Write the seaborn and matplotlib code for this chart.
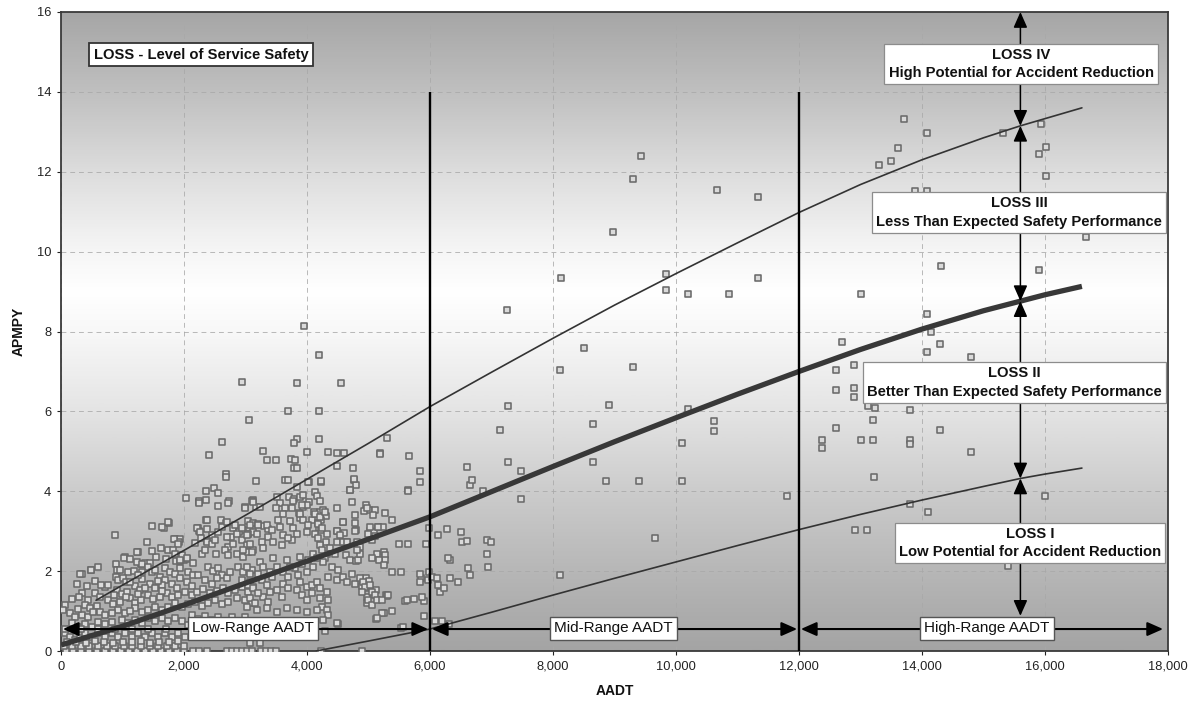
import numpy as np
import pandas as pd
import matplotlib
matplotlib.use("Agg")
import matplotlib.pyplot as plt
import seaborn as sns
from matplotlib.patches import FancyArrowPatch
from matplotlib.colors import LinearSegmentedColormap

# ---------------- data ----------------
low_range_points = [
    (3951, 8.13), (4195, 7.42), (2948, 6.74), (3837, 6.72), (4553, 6.72), (3696, 6.02), (4195, 6.01),
    (3057, 5.78), (2618, 5.23), (3837, 5.31), (3789, 5.22), (4195, 5.32), (5301, 5.33), (2407, 4.90),
    (3279, 5.02), (3995, 4.99), (4347, 4.99), (4493, 4.96), (4602, 4.96), (5187, 4.95), (5653, 4.89),
    (3355, 4.78), (3496, 4.78), (3740, 4.80), (3800, 4.78), (3789, 4.59), (3842, 4.59), (4493, 4.62),
    (4748, 4.59), (2678, 4.42), (2683, 4.35), (3642, 4.28), (3696, 4.28), (3176, 4.25), (4027, 4.22),
    (4228, 4.22), (3842, 4.10), (4764, 4.28), (4791, 4.16), (4699, 4.02), (5843, 4.50), (5843, 4.22),
    (5648, 4.02), (2027, 3.83), (2352, 4.00), (2493, 4.08), (2548, 3.95), (2249, 3.72), (2358, 3.78),
    (2732, 3.75), (3122, 3.77),
    (877, 2.90), (1474, 3.13), (1667, 3.08), (1754, 3.21), (1393, 2.72), (1033, 2.35), (1244, 2.48),
    (1306, 2.17), (1368, 2.21), (1449, 2.21), (890, 2.17), (915, 2.03), (958, 2.04), (485, 2.04),
    (336, 1.92), (268, 1.67), (1742, 2.52), (1854, 2.80), (1934, 2.80), (1922, 2.72), (1866, 2.25),
    (1928, 2.25), (1997, 2.28), (1934, 2.08), (2046, 2.31), (2183, 2.71), (2245, 3.76), (2998, 3.61),
    (3104, 3.76), (3166, 3.61), (3047, 3.26), (3116, 3.21), (3203, 3.17), (3296, 3.13), (3358, 3.05),
    (2967, 3.03), (3035, 2.93), (3129, 2.98), (2220, 3.08), (2252, 3.01), (2376, 3.05), (2364, 3.28),
    (2376, 2.75), (2463, 2.90), (2594, 3.27), (2675, 3.20), (2793, 3.08), (2892, 2.98), (2768, 2.85),
    (2868, 2.92), (4018, 4.23), (4223, 4.25), (4703, 4.03), (4759, 4.30), (5188, 4.94), (5642, 4.00),
    (5374, 3.28), (4964, 3.65), (5014, 3.53), (5113, 3.53), (4920, 3.50), (5262, 3.46),
    (3520, 3.86), (3558, 3.71), (3707, 3.86), (3794, 3.80), (3495, 3.57), (3645, 3.57), (3751, 3.57),
    (3894, 3.86), (3943, 3.90), (4025, 3.73), (4137, 3.98), (4168, 3.88), (4211, 3.75), (3937, 3.61),
    (3993, 3.65), (4112, 3.48), (4218, 3.48), (4261, 3.52), (4305, 3.39), (3863, 3.45), (3894, 3.33),
    (4081, 3.28), (4180, 3.21), (4223, 3.29), (4192, 3.08), (4223, 3.03), (4329, 2.93), (4485, 3.00),
    (4603, 2.95), (4597, 2.73), (4317, 2.72), (4491, 2.73), (4653, 2.72), (4796, 3.02), (4777, 3.21),
    (4590, 3.23), (5020, 3.00), (5095, 2.99), (5151, 3.10), (5231, 3.11), (5101, 2.87), (5256, 2.48),
    (5262, 2.40), (5262, 2.29), (5138, 2.43), (5063, 2.32), (5169, 2.28), (5256, 2.15), (5492, 2.68),
    (5642, 2.68), (5380, 1.97), (5523, 1.97), (5934, 2.67), (5990, 3.07), (5847, 1.84), (5841, 1.73),
    (4634, 2.40), (4697, 2.27), (4796, 2.25), (4827, 2.27), (4858, 2.42), (4964, 1.82), (5001, 1.75),
    (4889, 1.64), (4964, 1.57), (5126, 1.52), (5598, 1.24), (5747, 1.30), (5896, 1.25), (5872, 1.36),
    (5281, 1.39), (5306, 1.38), (5386, 1.00), (5256, 0.96), (5126, 0.79), (4983, 1.35), (4970, 1.19),
    (5523, 0.58), (5896, 0.88), (4497, 0.68), (4286, 0.51), (4223, 0.00), (4895, 0.00), (5977, 1.98),
    (2244, 3.71), (2547, 3.63), (2721, 3.71), (2992, 3.59), (1648, 3.11), (1745, 3.22), (2369, 3.29),
    (2558, 2.98), (2612, 3.11), (2206, 3.07), (2260, 2.98), (2694, 3.23), (2829, 3.15), (2938, 3.07),
    (3073, 3.15), (3046, 2.94), (1843, 2.80), (1908, 2.69), (1241, 2.47), (1030, 2.34), (2276, 2.83),
    (2369, 2.73), (2450, 2.69), (2504, 2.78), (2721, 2.61), (2802, 2.69), (2694, 2.86), (2938, 2.78),
    (3019, 2.65), (3127, 2.53), (1827, 2.53), (1854, 2.44), (1962, 2.40), (2043, 2.32), (1935, 2.28),
    (2287, 2.44), (2341, 2.53), (2515, 2.44), (2667, 2.53), (2721, 2.40), (2856, 2.44), (2965, 2.36),
    (3046, 2.48), (1230, 2.23), (1322, 2.19), (1420, 2.11), (1095, 1.98), (1187, 2.01), (1311, 1.98),
    (1474, 1.98), (1528, 2.03), (482, 2.03), (309, 1.93), (347, 1.44), (444, 1.28), (65, 1.15),
    (715, 1.61), (759, 1.65), (889, 1.86), (932, 1.78), (1014, 1.82), (1051, 1.73), (1691, 2.07),
    (1772, 1.98), (1610, 1.86), (1691, 1.78), (1854, 1.94), (1935, 1.84), (2070, 1.98), (2152, 1.90),
    (2233, 1.90), (2396, 2.11), (2477, 2.01), (2558, 2.07), (2612, 1.90), (2694, 1.82), (2748, 1.98),
    (2883, 2.11), (2965, 1.98), (3100, 2.03), (2938, 1.78), (3073, 1.73), (2341, 1.78), (2450, 1.69),
    (2531, 1.82), (2043, 1.73), (2125, 1.63), (1799, 1.69), (1881, 1.58), (1447, 1.69), (1528, 1.58),
    (1637, 1.65), (1203, 1.63), (1284, 1.53), (1366, 1.58), (905, 1.53), (986, 1.43), (1068, 1.48),
    (553, 1.44), (634, 1.36), (390, 1.15), (472, 1.07), (580, 1.13), (770, 1.28), (851, 1.18),
    (959, 1.23), (1122, 1.32), (1203, 1.21), (1301, 1.28), (1420, 1.40), (1501, 1.29), (1610, 1.36),
    (1718, 1.44), (1799, 1.34), (1908, 1.40), (2016, 1.48), (2125, 1.40), (2206, 1.48), (2314, 1.54),
    (2423, 1.44), (2531, 1.51), (2640, 1.57), (2721, 1.46), (2829, 1.53), (2938, 1.59), (3046, 1.48),
    (3127, 1.59), (2856, 1.32), (2992, 1.28), (3100, 1.19), (2504, 1.28), (2612, 1.18), (2721, 1.23),
    (2179, 1.23), (2287, 1.13), (2396, 1.19), (1854, 1.19), (1962, 1.11), (2070, 1.18), (1528, 1.11),
    (1637, 1.03), (1745, 1.09), (1203, 1.07), (1311, 0.98), (1420, 1.03), (932, 1.03), (1041, 0.94),
    (1122, 1.01), (634, 0.98), (715, 0.90), (824, 0.96), (146, 0.94), (228, 0.86), (336, 0.90),
    (444, 0.84), (173, 0.69), (282, 0.61), (390, 0.68), (499, 0.61), (607, 0.73), (715, 0.68),
    (824, 0.73), (986, 0.78), (1095, 0.71), (1203, 0.78), (1311, 0.71), (1420, 0.82), (1528, 0.76),
    (1637, 0.82), (1745, 0.76), (1854, 0.82), (1962, 0.76), (65, 0.44), (146, 0.36), (228, 0.28),
    (309, 0.32), (390, 0.44), (499, 0.36), (607, 0.44), (715, 0.36), (824, 0.44), (932, 0.36),
    (1041, 0.44), (1149, 0.36), (1257, 0.44), (1366, 0.36), (1474, 0.44), (1582, 0.36), (1691, 0.44),
    (1799, 0.36), (1908, 0.44), (2016, 0.36), (2125, 0.90), (2233, 0.79), (2341, 0.88), (2450, 0.78),
    (2558, 0.86), (2667, 0.76), (2775, 0.86), (2883, 0.76), (2992, 0.86), (3100, 0.76), (2287, 0.48),
    (2450, 0.40), (2612, 0.51), (2775, 0.40), (2938, 0.48), (3100, 0.40),
    (3128, 3.73), (3236, 3.61), (3778, 3.75), (3914, 3.65), (3887, 3.44), (3941, 3.28), (4022, 3.15),
    (3995, 2.98), (4130, 3.44), (4212, 3.36), (4293, 3.48), (4185, 3.19), (4239, 3.07), (4130, 2.94),
    (4185, 2.82), (3778, 3.07), (3832, 2.94), (3751, 2.78), (3616, 2.90), (3697, 2.82), (3589, 2.65),
    (3345, 3.15), (3426, 3.03), (3372, 2.86), (3453, 2.73), (3209, 3.15), (3182, 2.94), (3263, 2.73),
    (3290, 2.57), (3019, 2.90), (3073, 2.69), (2965, 2.53), (3101, 2.48), (4483, 3.57), (4727, 3.73),
    (4781, 3.40), (4971, 3.57), (5079, 3.40), (4592, 3.23), (4781, 3.01), (5025, 3.11), (5160, 3.11),
    (4483, 3.00), (4592, 2.73), (4646, 2.73), (4537, 2.90), (4998, 2.94), (5052, 2.78), (4808, 2.73),
    (4862, 2.61), (4808, 2.53), (4374, 2.57), (4456, 2.44), (4320, 2.44), (4293, 2.32), (4212, 2.65),
    (4239, 2.53), (4266, 2.23), (4103, 2.44), (4158, 2.32), (4022, 2.28), (4103, 2.11), (3995, 1.98),
    (3887, 2.36), (3914, 2.19), (3805, 2.07), (3860, 1.90), (3670, 2.28), (3724, 2.11), (3616, 1.98),
    (3697, 1.86), (3453, 2.32), (3507, 2.11), (3399, 1.98), (3426, 1.86), (3236, 2.23), (3290, 2.11),
    (3209, 1.94), (3263, 1.78), (3019, 2.11), (3073, 1.94), (3046, 1.65), (3616, 3.44), (3724, 3.26),
    (3534, 3.28), (3561, 3.11), (4402, 2.11), (4510, 2.03), (4347, 1.86), (4483, 1.78), (4592, 1.86),
    (4646, 1.73), (4727, 1.94), (4781, 1.69), (4862, 1.82), (4917, 1.73), (4944, 1.61), (4889, 1.48),
    (5025, 1.65), (5052, 1.48), (5106, 1.40), (4998, 1.28), (5052, 1.15), (5133, 1.28), (5214, 1.28),
    (5323, 1.40), (5214, 0.94), (5621, 1.28), (5838, 1.94), (5973, 1.78), (5133, 0.82), (5567, 0.61),
    (4483, 0.69), (3887, 1.73), (3995, 1.61), (4076, 1.65), (4158, 1.73), (3832, 1.53), (3914, 1.40),
    (3995, 1.28), (4076, 1.44), (4212, 1.57), (4320, 1.48), (4212, 1.32), (4347, 1.28), (4239, 1.11),
    (3616, 1.69), (3697, 1.57), (3507, 1.53), (3589, 1.36), (3345, 1.65), (3399, 1.48), (3290, 1.36),
    (3372, 1.23), (3128, 1.57), (3209, 1.44), (3073, 1.32), (3155, 1.19), (3019, 1.11), (3182, 1.03),
    (3345, 1.07), (3507, 0.98), (3670, 1.07), (3832, 1.03), (3995, 0.98), (4158, 1.03), (4320, 1.03),
    (4347, 0.90), (4266, 0.78), (3073, 0.19), (3236, 0.21),
    (80, 0.0), (200, 0.0), (330, 0.0), (460, 0.0), (590, 0.0), (720, 0.0), (850, 0.0), (980, 0.0),
    (1110, 0.0), (1240, 0.0), (1370, 0.0), (1500, 0.0), (1630, 0.0), (1760, 0.0), (1890, 0.0),
    (2000, 0.0), (2150, 0.0), (2250, 0.0), (2380, 0.0), (2700, 0.0), (2780, 0.0), (2860, 0.0),
    (2940, 0.0), (3020, 0.0), (3100, 0.0), (3250, 0.0), (3330, 0.0), (3410, 0.0), (3500, 0.0),
    (50, 0.12), (180, 0.12), (320, 0.12), (460, 0.12), (600, 0.12), (740, 0.12), (880, 0.12),
    (1020, 0.12), (1160, 0.12), (1300, 0.12), (1440, 0.12), (1580, 0.12), (1720, 0.12), (1860, 0.12),
    (2000, 0.12),
    (100, 0.22), (250, 0.23), (400, 0.21), (550, 0.24), (700, 0.22), (850, 0.21), (1000, 0.23),
    (1150, 0.22), (1300, 0.24), (1450, 0.21), (1600, 0.23), (1750, 0.22), (1900, 0.24),
    (60, 0.55), (330, 0.54), (600, 0.56), (870, 0.55), (1150, 0.54), (1420, 0.56), (1700, 0.55),
    (40, 1.02), (280, 1.05), (520, 0.98), (180, 1.30), (300, 1.36), (860, 1.40), (1050, 1.35),
    (1260, 1.42), (1650, 1.50), (420, 1.62), (560, 1.75), (650, 1.66), (1130, 1.72), (1320, 1.80),
    (1580, 1.75), (1250, 1.90), (600, 2.10), (1130, 2.30), (1550, 2.35), (1620, 2.58), (1480, 2.50),
    (1700, 2.30), (2150, 2.20), (2060, 0.64), (2180, 0.60),
]

mid_range_points = [
    (6040, 1.86), (6126, 2.90), (6270, 3.05), (6120, 1.84), (6126, 1.65), (6170, 1.47), (6232, 1.57),
    (6325, 2.28), (6295, 2.32), (6319, 1.84), (6450, 1.73), (6500, 2.98), (6513, 2.73), (6600, 2.76),
    (6594, 4.61), (6643, 4.15), (6681, 4.29), (6619, 2.07), (6656, 1.90), (6868, 4.00), (6930, 2.78),
    (6998, 2.73), (6930, 2.42), (6943, 2.11), (6201, 0.75), (6307, 0.68), (6089, 0.75), (7144, 5.53),
    (7262, 4.73), (7275, 6.14), (7480, 4.50), (7480, 3.80), (8121, 7.03), (8108, 1.90), (8500, 7.58),
    (8643, 5.68), (8655, 4.73), (7252, 8.53), (8135, 9.34), (9439, 12.39), (9304, 11.83),
    (10660, 11.54), (11337, 11.38), (8979, 10.50), (9833, 9.44), (9833, 9.03), (10200, 8.94),
    (10863, 8.94), (11337, 9.34), (9304, 7.11), (8917, 6.15), (10195, 6.05), (10618, 5.77),
    (10618, 5.52), (10098, 5.22), (8869, 4.26), (9397, 4.26), (10098, 4.26), (11808, 3.89),
    (9654, 2.84),
]

high_range_points = [
    (13706, 13.33), (14087, 12.97), (13602, 12.59), (13491, 12.28), (13307, 12.17), (15314, 12.97),
    (15927, 13.19), (16020, 12.63), (15903, 12.45), (16020, 11.90), (13889, 11.53), (14081, 11.53),
    (16663, 10.36), (14307, 9.63), (15909, 9.54), (13006, 8.94), (14087, 8.43), (14153, 8.00),
    (14294, 7.68), (12699, 7.73), (14087, 7.48), (14799, 7.36), (12595, 7.04), (12894, 7.15),
    (12595, 6.53), (12894, 6.59), (12894, 6.37), (13122, 6.13), (13233, 6.08), (13202, 5.78),
    (13797, 6.04), (12595, 5.58), (12374, 5.29), (12374, 5.08), (13000, 5.29), (13197, 5.29),
    (13797, 5.29), (13797, 5.18), (14293, 5.53), (14797, 4.98), (13219, 4.36), (13797, 3.69),
    (14098, 3.47), (12907, 3.02), (13098, 3.02), (16006, 3.89), (15393, 2.14),
]

# fitted curves
expected_aadt = [0, 1000, 2000, 3000, 4000, 5000, 6000, 7000, 8000, 9000, 10000, 11000, 12000,
                 13000, 14000, 15000, 15600, 16000, 16600]
expected_apmpy = [0.15, 0.62, 1.15, 1.70, 2.25, 2.80, 3.36, 3.99, 4.62, 5.24, 5.84, 6.43, 7.00,
                  7.55, 8.06, 8.52, 8.76, 8.92, 9.13]

upper_aadt = [570, 1000, 2000, 3000, 4000, 5000, 6000, 7000, 8000, 9000, 10000, 11000, 12000,
              13000, 14000, 15000, 15600, 16000, 16600]
upper_apmpy = [1.27, 1.65, 2.52, 3.40, 4.30, 5.20, 6.12, 6.98, 7.83, 8.66, 9.45, 10.22, 10.98,
               11.68, 12.30, 12.85, 13.15, 13.33, 13.60]

lower_aadt = [4150, 5000, 6000, 7000, 8000, 9000, 10000, 11000, 12000, 13000, 14000, 15000,
              15600, 16000, 16600]
lower_apmpy = [0.0, 0.25, 0.55, 0.97, 1.40, 1.82, 2.23, 2.64, 3.04, 3.42, 3.78, 4.12, 4.32,
               4.43, 4.58]

range_bounds = [6000, 12000]
range_line_top = 14
range_arrow_edges = [0, 6000, 12000, 17950]
range_labels = ["Low-Range AADT", "Mid-Range AADT", "High-Range AADT"]

loss_aadt = 15600
loss_levels = [0.88, 4.32, 8.76, 13.15, 16.0]
loss_labels = [
    "LOSS I\nLow Potential for Accident Reduction",
    "LOSS II\nBetter Than Expected Safety Performance",
    "LOSS III\nLess Than Expected Safety Performance",
    "LOSS IV\nHigh Potential for Accident Reduction",
]

x_ticks = [0, 2000, 4000, 6000, 8000, 10000, 12000, 14000, 16000, 18000]
x_tick_labels = ["0", "2,000", "4,000", "6,000", "8,000", "10,000", "12,000", "14,000", "16,000", "18,000"]
y_ticks = [0, 2, 4, 6, 8, 10, 12, 14, 16]

title_text = "LOSS - Level of Service Safety"

# ---------------- plot ----------------
sns.set_theme(style="white")
plt.rcParams["font.family"] = ["Liberation Sans", "DejaVu Sans"]

fig = plt.figure(figsize=(11.92, 7.04), dpi=100)
ax = fig.add_axes([61 / 1192, 1 - 651 / 704, (1168 - 61) / 1192, (651 - 12) / 704])

# background gradient (dark top & bottom, white in middle)
stops = [(0.0, "#a4a4a4"), (2 / 16, "#b7b7b7"), (4 / 16, "#cccccc"), (6 / 16, "#e4e4e4"),
         (8 / 16, "#f8f8f8"), (9 / 16, "#ffffff"), (10 / 16, "#f6f6f6"), (12 / 16, "#dddddd"),
         (14 / 16, "#c0c0c0"), (1.0, "#a6a6a6")]
cmap = LinearSegmentedColormap.from_list("bg", stops)
ax.imshow(np.linspace(0, 1, 512).reshape(-1, 1), cmap=cmap, origin="lower", aspect="auto",
          extent=(0, 18000, 0, 16), zorder=-2, interpolation="bilinear")

pts = pd.DataFrame(low_range_points + mid_range_points + high_range_points, columns=["AADT", "APMPY"])
sns.scatterplot(data=pts, x="AADT", y="APMPY", marker="s", s=15, color="#dadada",
                edgecolor="#6a6a6a", linewidth=1.15, ax=ax, zorder=3, legend=False)

curve_df = pd.DataFrame({"AADT": expected_aadt, "APMPY": expected_apmpy})
upper_df = pd.DataFrame({"AADT": upper_aadt, "APMPY": upper_apmpy})
lower_df = pd.DataFrame({"AADT": lower_aadt, "APMPY": lower_apmpy})
sns.lineplot(data=upper_df, x="AADT", y="APMPY", color="#333333", lw=1.2, sort=False,
             estimator=None, ax=ax, zorder=4)
sns.lineplot(data=lower_df, x="AADT", y="APMPY", color="#333333", lw=1.2, sort=False,
             estimator=None, ax=ax, zorder=4)
sns.lineplot(data=curve_df, x="AADT", y="APMPY", color="#383838", lw=3.8, sort=False,
             estimator=None, ax=ax, zorder=4, solid_capstyle="butt")

ax.vlines(range_bounds, 0, range_line_top, color="black", lw=1.7, zorder=5)

# range arrows
arrow_y = 0.55
hstyle = "<|-|>,head_length=0.95,head_width=0.42"
label_shift = [120, -20, 80]
for (x0, x1), lab, dx in zip(zip(range_arrow_edges[:-1], range_arrow_edges[1:]), range_labels, label_shift):
    a = FancyArrowPatch((x0 + 30, arrow_y), (x1 - 30, arrow_y), arrowstyle=hstyle,
                        mutation_scale=10, color="black", lw=1.5, shrinkA=0, shrinkB=0, zorder=6)
    ax.add_patch(a)
    ax.text((x0 + x1) / 2 + dx, arrow_y + 0.02, lab,
            ha="center", va="center", fontsize=11, color="#111111", zorder=7,
            bbox=dict(boxstyle="square,pad=0.28", fc="white", ec="#555555", lw=1.0))

# LOSS arrows
for y0, y1 in zip(loss_levels[:-1], loss_levels[1:]):
    a = FancyArrowPatch((loss_aadt, y0), (loss_aadt, y1), arrowstyle=hstyle,
                        mutation_scale=10, color="black", lw=1.1, shrinkA=0, shrinkB=0,
                        zorder=6, clip_on=False)
    ax.add_patch(a)

loss_box_pos = [(15756, 2.70), (15504, 6.72), (15577, 10.98), (15610, 14.70)]
for (lx, ly), lab in zip(loss_box_pos, loss_labels):
    ax.text(lx, ly, lab, ha="center", va="center", fontsize=10.6, fontweight="bold",
            color="#111111", linespacing=1.4, zorder=8,
            bbox=dict(boxstyle="square,pad=0.28", fc="white", ec="#8c8c8c", lw=0.9))

ax.text(2276, 14.93, title_text, ha="center", va="center", fontsize=10.6, fontweight="bold",
        color="#111111", zorder=8,
        bbox=dict(boxstyle="square,pad=0.3", fc="white", ec="#333333", lw=1.3))

ax.set_xlim(0, 18000)
ax.set_ylim(0, 16)
ax.set_xticks(x_ticks)
ax.set_xticklabels(x_tick_labels)
ax.set_yticks(y_ticks)
ax.grid(True, linestyle=(0, (5, 4)), color="#a8a8a8", lw=0.7, alpha=0.8)
ax.tick_params(axis="both", labelsize=9.3, colors="#222222", length=3, width=0.8,
               bottom=True, left=True, pad=4)
for sp in ax.spines.values():
    sp.set_color("#3a3a3a")
    sp.set_linewidth(1.3)
ax.set_xlabel("AADT", fontsize=10, fontweight="bold", color="#111111", labelpad=8)
ax.set_ylabel("APMPY", fontsize=10, fontweight="bold", color="#111111", labelpad=8)

fig.savefig("out.png", dpi=100)
